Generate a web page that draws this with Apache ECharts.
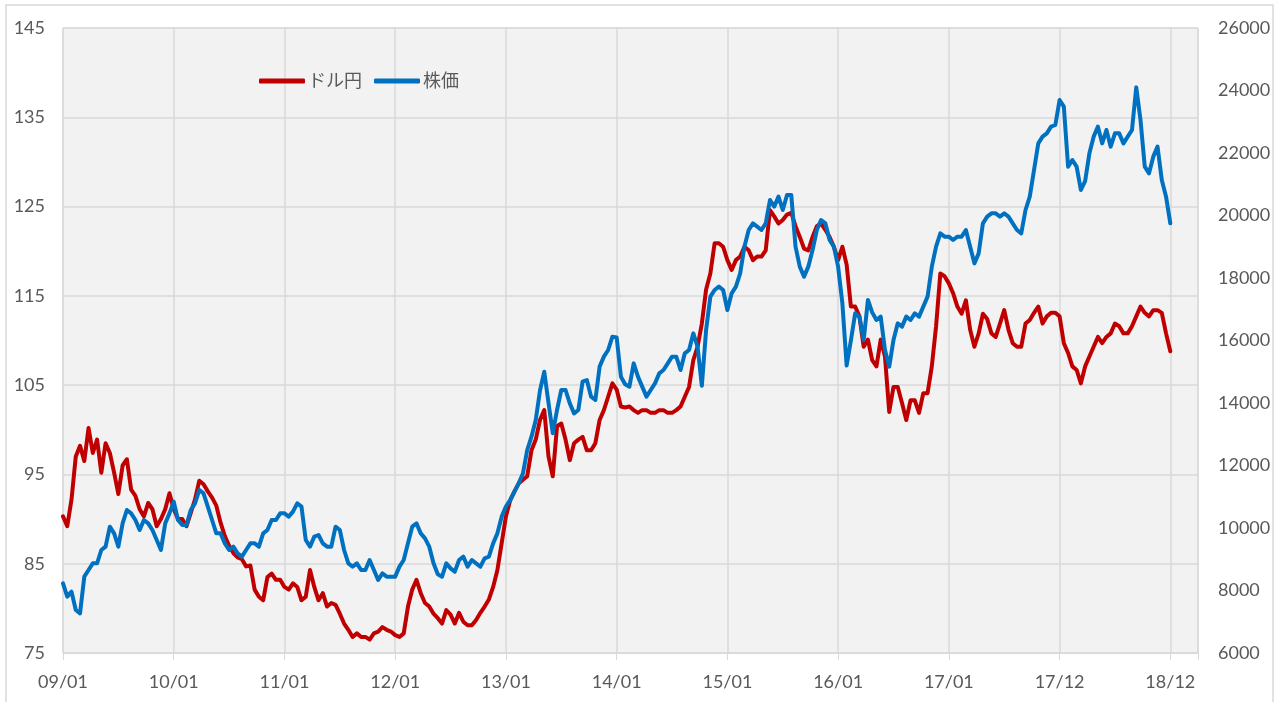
<!DOCTYPE html>
<html>
<head>
<meta charset="utf-8">
<script src="https://cdn.jsdelivr.net/npm/echarts@6/dist/echarts.min.js"></script>
<style>
  html, body { margin: 0; padding: 0; background: #fff; }
  #chart { width: 1279px; height: 702px; }
</style>
</head>
<body>
<div id="chart"></div>
<script>
  // 2週ごとのサンプル (09/01 起点の週番号 = i * step)
  const step = 2;
  const xLabels = ['09/01', '10/01', '11/01', '12/01', '13/01', '14/01', '15/01', '16/01', '17/01', '17/12', '18/12'];

  // ドル円 (左軸)
  const usdjpy = [
    90.3, 89.2, 92.2, 97.0, 98.2, 96.5, 100.2, 97.4, 98.9, 95.2, 98.5, 97.4, 95.2, 92.8, 96.0, 96.7, 93.3, 92.6, 91.1, 90.3, 91.8, 91.1, 89.2, 90.0, 91.1, 92.9,
    91.1, 90.0, 90.0, 89.2, 90.7, 92.2, 94.3, 93.9, 93.1, 92.4, 91.5, 89.6, 88.1, 87.0, 86.2, 85.7, 85.5, 84.7, 84.8, 82.1, 81.3, 80.9, 83.5, 83.9, 83.2, 83.2,
    82.4, 82.1, 82.8, 82.4, 80.9, 81.3, 84.3, 82.4, 80.9, 81.7, 80.2, 80.6, 80.4, 79.4, 78.3, 77.6, 76.8, 77.2, 76.8, 76.8, 76.5, 77.2, 77.4, 77.9, 77.6, 77.4,
    77.0, 76.8, 77.2, 80.2, 82.1, 83.2, 81.7, 80.6, 80.2, 79.4, 78.9, 78.3, 79.8, 79.3, 78.3, 79.5, 78.5, 78.1, 78.1, 78.7, 79.5, 80.2, 81.0, 82.4, 84.3, 87.3,
    90.3, 92.1, 93.1, 94.0, 94.4, 94.8, 97.7, 98.9, 101.1, 102.2, 97.0, 94.8, 100.4, 100.7, 98.9, 96.6, 98.5, 98.9, 99.2, 97.7, 97.7, 98.5, 101.1, 102.2, 103.7, 105.2,
    104.5, 102.6, 102.5, 102.6, 102.2, 101.9, 102.2, 102.2, 101.9, 101.9, 102.2, 102.2, 101.9, 101.9, 102.2, 102.6, 103.7, 104.8, 107.8, 109.3, 111.9, 115.7, 117.5, 120.9, 120.9, 120.5,
    119.0, 117.9, 119.0, 119.4, 120.5, 120.1, 119.0, 119.4, 119.4, 120.1, 124.6, 123.9, 123.1, 123.5, 124.1, 124.3, 122.8, 121.6, 120.3, 120.1, 121.6, 122.8, 123.1, 122.4, 121.6, 120.5,
    119.0, 120.5, 118.5, 113.8, 113.8, 112.7, 109.3, 110.1, 107.8, 107.1, 110.1, 108.2, 102.0, 104.8, 104.8, 103.0, 101.1, 103.3, 103.3, 101.9, 104.1, 104.1, 107.1, 111.6, 117.5, 117.2,
    116.4, 115.3, 113.8, 113.0, 114.5, 111.2, 109.3, 110.8, 113.0, 112.4, 110.8, 110.4, 111.9, 113.4, 111.2, 109.7, 109.3, 109.3, 111.9, 112.3, 113.1, 113.8, 111.9, 112.7, 113.1, 113.1,
    112.7, 109.7, 108.6, 107.1, 106.7, 105.2, 107.1, 108.2, 109.3, 110.4, 109.7, 110.4, 110.8, 111.9, 111.6, 110.8, 110.8, 111.6, 112.7, 113.8, 113.1, 112.7, 113.4, 113.4, 113.1, 110.8, 108.8
  ];

  // 株価 (右軸)
  const nikkei = [
    8229, 7803, 7963, 7376, 7269, 8443, 8656, 8869, 8869, 9296, 9403, 10043, 9829, 9403, 10149, 10576, 10469, 10256, 9936, 10256, 10149, 9936, 9616, 9300, 10149, 10469,
    10843, 10256, 10096, 10096, 10576, 10789, 11216, 11109, 10683, 10256, 9829, 9829, 9509, 9296, 9403, 9189, 9083, 9296, 9509, 9509, 9403, 9829, 9936, 10256, 10256, 10469,
    10469, 10363, 10523, 10789, 10683, 9616, 9403, 9723, 9776, 9509, 9403, 9403, 10043, 9936, 9296, 8869, 8763, 8869, 8656, 8656, 8976, 8656, 8336, 8549, 8443, 8443,
    8443, 8763, 8976, 9509, 10043, 10149, 9829, 9669, 9403, 8869, 8520, 8443, 8869, 8709, 8603, 8976, 9083, 8763, 8976, 8869, 8763, 9029, 9083, 9509, 9829, 10363,
    10683, 10896, 11163, 11429, 11749, 12496, 12923, 13456, 14400, 15000, 14000, 13029, 13776, 14416, 14416, 13989, 13669, 13776, 14683, 14736, 14203, 14096, 15163, 15483, 15696, 16123,
    16100, 14843, 14600, 14523, 15269, 14843, 14523, 14203, 14416, 14629, 14949, 15056, 15269, 15483, 15483, 15056, 15589, 15696, 16229, 15803, 14550, 16336, 17403, 17616, 17723, 17616,
    16976, 17509, 17723, 18149, 19003, 19536, 19749, 19643, 19536, 19749, 20496, 20283, 20603, 20176, 20656, 20656, 19003, 18363, 18043, 18363, 18896, 19536, 19856, 19749, 19216, 19003,
    18363, 17189, 15200, 16000, 16869, 16763, 16016, 17296, 16900, 16656, 16763, 15696, 15163, 16016, 16549, 16443, 16763, 16656, 16869, 16763, 17083, 17403, 18363, 19003, 19429, 19323,
    19323, 19216, 19323, 19323, 19536, 19003, 18469, 18789, 19749, 19963, 20069, 20069, 19963, 20069, 19963, 19749, 19536, 19429, 20176, 20603, 21456, 22309, 22523, 22629, 22843, 22896,
    23696, 23483, 21563, 21776, 21563, 20816, 21100, 21989, 22523, 22843, 22309, 22736, 22203, 22629, 22629, 22309, 22523, 22736, 24100, 23056, 21563, 21349, 21883, 22203, 21136, 20603, 19749
  ];

  const toPairs = arr => arr.map((v, i) => [i * step, v]);

  const font = 'Lato, "Noto Sans CJK JP", sans-serif';
  const textColor = '#595959';
  const gridColor = '#d9d9d9';

  const chart = echarts.init(document.getElementById('chart'));
  chart.setOption({
    animation: false,
    backgroundColor: '#fff',
    graphic: [{
      type: 'rect',
      shape: { x: 6, y: 5, width: 1267, height: 720 },
      style: { fill: 'none', stroke: gridColor, lineWidth: 1.5 },
      silent: true
    }],
    legend: {
      left: 254,
      top: 67,
      icon: 'roundRect',
      itemWidth: 46,
      itemHeight: 5,
      itemGap: 12,
      textStyle: { fontSize: 18, color: textColor, fontFamily: font, padding: [0, 0, 0, -2] },
      data: ['ドル円', '株価']
    },
    grid: {
      left: 63, right: 81, top: 28, bottom: 49,
      show: true,
      backgroundColor: '#f2f2f2',
      borderColor: gridColor,
      borderWidth: 1
    },
    xAxis: {
      type: 'value',
      min: 0,
      max: 533,
      interval: 52,
      axisLine: { show: true, lineStyle: { color: gridColor } },
      axisTick: { show: true, length: 7, lineStyle: { color: gridColor } },
      splitLine: { show: true, lineStyle: { color: gridColor, width: 1.5 } },
      axisLabel: {
        margin: 20,
        fontSize: 18,
        color: textColor,
        fontFamily: font,
        formatter: v => (v % 52 === 0 && xLabels[v / 52]) ? xLabels[v / 52] : ''
      }
    },
    yAxis: [{
      type: 'value',
      min: 75,
      max: 145,
      interval: 10,
      axisLine: { show: false },
      axisTick: { show: false },
      splitLine: { lineStyle: { color: gridColor, width: 1.5 } },
      axisLabel: { margin: 18, fontSize: 18, color: textColor, fontFamily: font }
    }, {
      type: 'value',
      min: 6000,
      max: 26000,
      interval: 2000,
      axisLine: { show: false },
      axisTick: { show: false },
      splitLine: { show: false },
      axisLabel: { margin: 20, fontSize: 18, color: textColor, fontFamily: font, formatter: v => String(v) }
    }],
    series: [{
      name: 'ドル円',
      type: 'line',
      yAxisIndex: 0,
      symbol: 'none',
      data: toPairs(usdjpy),
      lineStyle: { color: '#c00000', width: 4, cap: 'round', join: 'round' },
      itemStyle: { color: '#c00000' }
    }, {
      name: '株価',
      type: 'line',
      yAxisIndex: 1,
      symbol: 'none',
      data: toPairs(nikkei),
      lineStyle: { color: '#0070c0', width: 4, cap: 'round', join: 'round' },
      itemStyle: { color: '#0070c0' }
    }]
  });
</script>
</body>
</html>
